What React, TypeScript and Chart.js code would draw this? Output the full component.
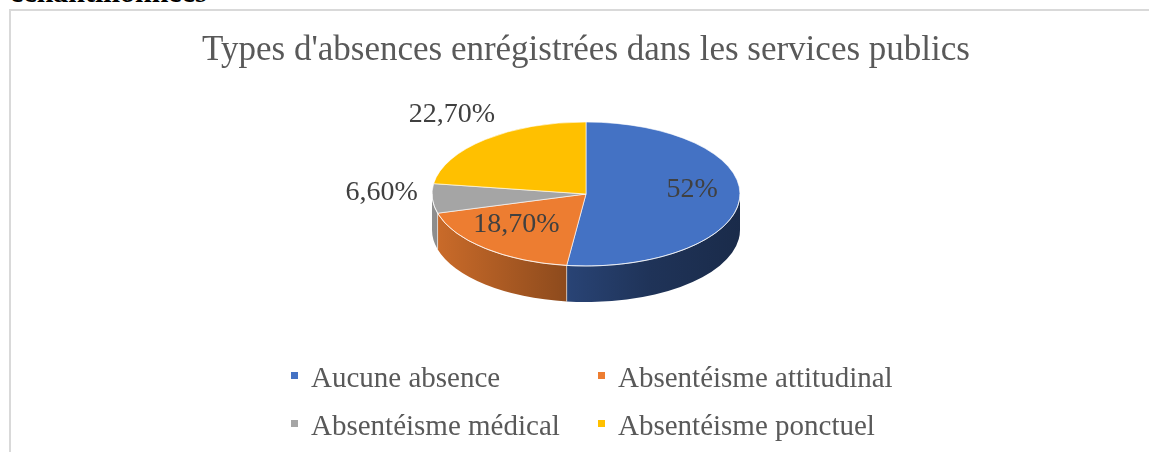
import React, { useEffect, useRef } from 'react';
import { Chart, registerables } from 'chart.js';

Chart.register(...registerables);

// ---- data ----
const categories = ['Aucune absence', 'Absentéisme attitudinal', 'Absentéisme médical', 'Absentéisme ponctuel'];
const values = [52, 18.7, 6.6, 22.7];
const topColors = ['#4472C4', '#ED7D31', '#A5A5A5', '#FFC000'];
const labelPlacement = ['inside', 'inside', 'outside', 'outside'];
const chartTitle = "Types d'absences enrégistrées dans les services publics";
const pageHeading = 'échantillonnées';

const SERIF = '"Liberation Serif", "Times New Roman", serif';

function fmtPct(v: number): string {
  return Number.isInteger(v) ? `${v}%` : v.toFixed(2).replace('.', ',') + '%';
}

function shade(hex: string, f: number): string {
  const h = hex.replace('#', '');
  const r = Math.round(parseInt(h.slice(0, 2), 16) * f);
  const g = Math.round(parseInt(h.slice(2, 4), 16) * f);
  const b = Math.round(parseInt(h.slice(4, 6), 16) * f);
  return `rgb(${r},${g},${b})`;
}

const pie3d = {
  id: 'pie3d',
  beforeDatasetsDraw(chart: any, _args: any, opts: any) {
    const ctx = chart.ctx;
    const meta = chart.getDatasetMeta(0);
    if (!meta.data.length) return;
    const a0 = meta.data[0];
    const x = a0.x, y = a0.y, R = a0.outerRadius;
    const sq = opts.squash;
    const dFlat = opts.depth / sq;
    const colors = chart.data.datasets[0].backgroundColor;

    // side walls
    ctx.save();
    ctx.translate(opts.cx, opts.cy);
    ctx.scale(1, sq);
    ctx.translate(-x, -y);
    meta.data.forEach((arc: any, i: number) => {
      const s = Math.max(arc.startAngle, 0);
      const e = Math.min(arc.endAngle, Math.PI);
      if (e <= s) return;
      const g = ctx.createLinearGradient(x - R, 0, x + R, 0);
      opts.sideShade.forEach((st: number[]) => g.addColorStop(st[0], shade(colors[i], st[1])));
      ctx.beginPath();
      ctx.arc(x, y, R, s, e);
      ctx.arc(x, y + dFlat, R, e, s, true);
      ctx.closePath();
      ctx.fillStyle = g;
      ctx.fill();
    });
    ctx.restore();

    // wall separators
    ctx.save();
    ctx.strokeStyle = 'rgba(255,255,255,0.55)';
    ctx.lineWidth = 1;
    meta.data.forEach((arc: any) => {
      const a = arc.endAngle;
      if (a > 0 && a < Math.PI) {
        const sx = opts.cx + R * Math.cos(a);
        const sy = opts.cy + R * sq * Math.sin(a);
        ctx.beginPath();
        ctx.moveTo(sx, sy);
        ctx.lineTo(sx, sy + opts.depth);
        ctx.stroke();
      }
    });
    ctx.restore();

    // transform for the top faces drawn by Chart.js
    ctx.save();
    ctx.translate(opts.cx, opts.cy);
    ctx.scale(1, sq);
    ctx.translate(-x, -y);
  },
  afterDatasetsDraw(chart: any, _args: any, opts: any) {
    const ctx = chart.ctx;
    ctx.restore();
    const meta = chart.getDatasetMeta(0);
    if (!meta.data.length) return;
    const R = meta.data[0].outerRadius;
    const sq = opts.squash;

    // rim highlight
    ctx.save();
    ctx.strokeStyle = 'rgba(255,255,255,0.6)';
    ctx.lineWidth = 1;
    ctx.beginPath();
    ctx.ellipse(opts.cx, opts.cy, R, R * sq, 0, 0, Math.PI);
    ctx.stroke();
    ctx.restore();

    // data labels
    ctx.save();
    ctx.font = `${opts.labelSize}px ${SERIF}`;
    ctx.fillStyle = '#404040';
    ctx.textAlign = 'center';
    ctx.textBaseline = 'middle';
    const data = chart.data.datasets[0].data;
    meta.data.forEach((arc: any, i: number) => {
      const mid = (arc.startAngle + arc.endAngle) / 2;
      const f = opts.placement[i] === 'inside' ? opts.insideFactor : opts.outsideFactor;
      const lx = opts.cx + R * f * Math.cos(mid);
      const ly = opts.cy + R * sq * f * Math.sin(mid) + opts.labelShiftY;
      ctx.fillText(fmtPct(data[i]), lx, ly);
    });
    ctx.restore();
  },
  afterDraw(chart: any, _args: any, opts: any) {
    const ctx = chart.ctx;
    const labels = chart.data.labels;
    const colors = chart.data.datasets[0].backgroundColor;
    ctx.save();
    ctx.font = `${opts.legendSize}px ${SERIF}`;
    ctx.textAlign = 'left';
    ctx.textBaseline = 'alphabetic';
    labels.forEach((lab: string, i: number) => {
      const col = i % 2;
      const row = Math.floor(i / 2);
      const tx = opts.legendCols[col];
      const by = opts.legendRows[row];
      ctx.fillStyle = colors[i];
      ctx.fillRect(tx - 20, by - 15, 7, 7);
      ctx.fillStyle = '#595959';
      ctx.fillText(lab, tx, by);
    });
    ctx.restore();
  },
};

export default function App() {
  const canvasRef = useRef<HTMLCanvasElement | null>(null);

  useEffect(() => {
    if (!canvasRef.current) return;
    const chart = new Chart(canvasRef.current, {
      type: 'pie',
      data: {
        labels: categories,
        datasets: [
          {
            data: values,
            backgroundColor: topColors,
            borderColor: 'rgba(255,255,255,0.85)',
            borderWidth: 1,
            radius: 154,
            clip: false,
            hoverOffset: 0,
          } as any,
        ],
      },
      options: {
        responsive: false,
        animation: false,
        devicePixelRatio: 1,
        events: [],
        layout: { padding: 0 },
        plugins: {
          legend: { display: false },
          tooltip: { enabled: false },
          title: {
            display: true,
            text: chartTitle,
            color: '#595959',
            font: { family: SERIF, size: 35, weight: 'normal' },
            padding: { top: 19, bottom: 10 },
          },
          pie3d: {
            cx: 575,
            cy: 183,
            squash: 72 / 154,
            depth: 36,
            sideShade: [
              [0, 0.86],
              [0.43, 0.6],
              [0.71, 0.45],
              [1, 0.38],
            ],
            placement: labelPlacement,
            insideFactor: 0.69,
            outsideFactor: 1.33,
            labelShiftY: -7,
            labelSize: 28,
            legendSize: 29,
            legendCols: [300, 607],
            legendRows: [376, 424],
          },
        } as any,
      },
      plugins: [pie3d as any],
    });
    return () => chart.destroy();
  }, []);

  return (
    <div style={{ position: 'absolute', left: 0, top: 0, width: 1149, height: 452, overflow: 'hidden', background: '#fff' }}>
      <div
        style={{
          position: 'absolute',
          left: 10,
          top: -23,
          font: `bold 30px ${SERIF}`,
          lineHeight: '30px',
          color: '#000',
          whiteSpace: 'nowrap',
        }}
      >
        {pageHeading}
      </div>
      <div
        style={{
          position: 'absolute',
          left: 9,
          top: 9,
          width: 2000,
          height: 1000,
          borderLeft: '2px solid #d9d9d9',
          borderTop: '2px solid #d9d9d9',
        }}
      />
      <canvas
        ref={canvasRef}
        width={1150}
        height={441}
        style={{ position: 'absolute', left: 11, top: 11, width: 1150, height: 441 }}
      />
    </div>
  );
}
